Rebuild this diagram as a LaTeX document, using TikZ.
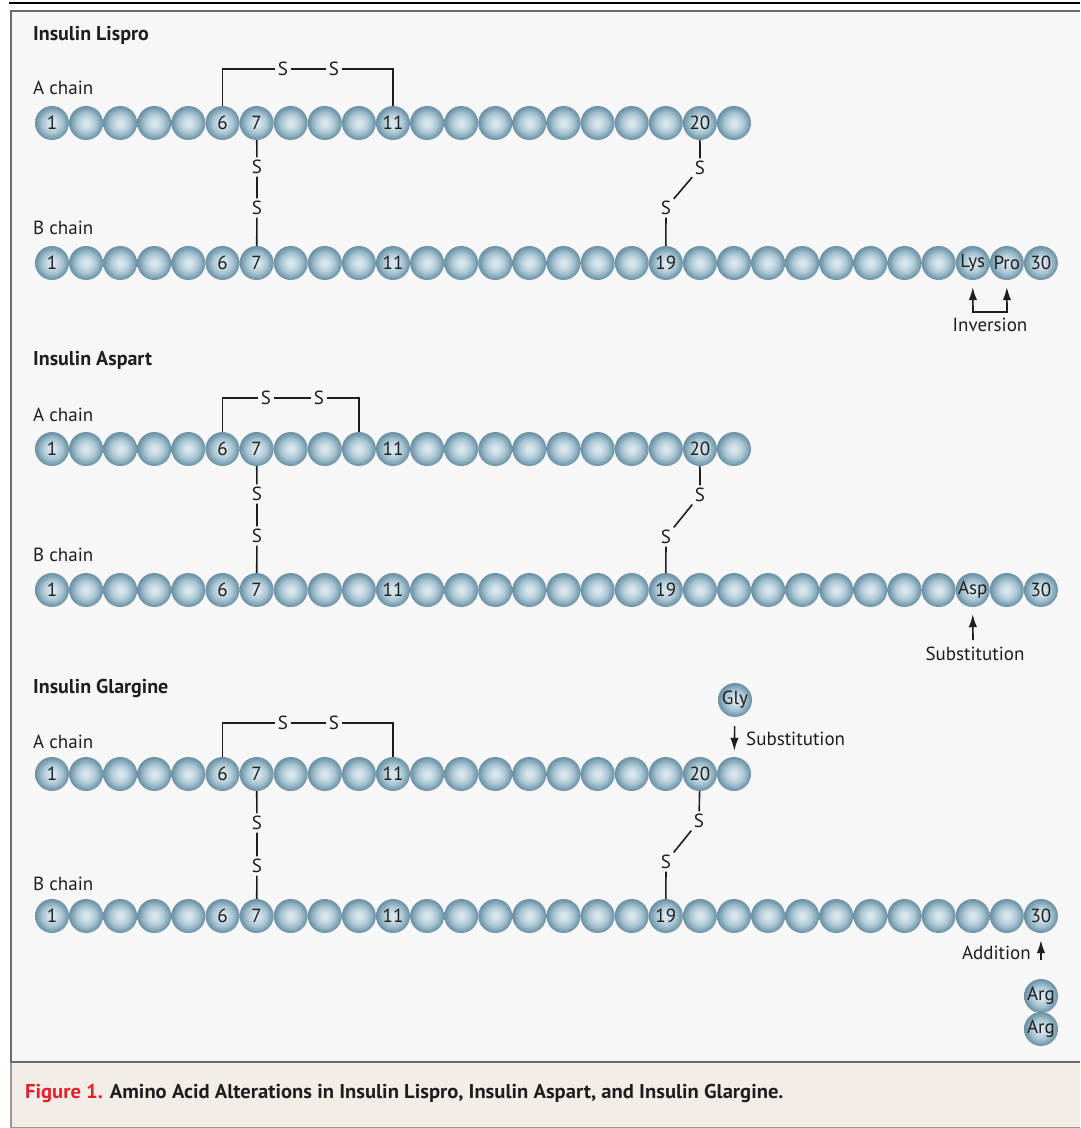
\documentclass[tikz,border=0pt]{standalone}
\usepackage{fontspec}
\setmainfont{PT Sans}
\usepackage{graphicx}
\usetikzlibrary{arrows.meta}
\definecolor{beadhi}{HTML}{DCE8EE}
\definecolor{beadmid}{HTML}{A6C3D1}
\definecolor{beadedge}{HTML}{789DB0}
\definecolor{boxbg}{HTML}{F7F7F7}
\definecolor{capbg}{HTML}{F2EDE7}
\definecolor{framegray}{HTML}{6A6A6A}
\definecolor{figred}{HTML}{E51F2A}
\definecolor{ink}{HTML}{1E1E1E}
\pgfdeclareradialshading{beadshade}{\pgfpoint{0bp}{0bp}}{color(0bp)=(beadhi); color(5bp)=(beadhi!85!beadmid); color(15bp)=(beadmid); color(22bp)=(beadedge); color(25bp)=(beadedge!92!black); color(50bp)=(beadedge!92!black)}
\newcommand\setlab[2]{\expandafter\def\csname bl@#1\endcsname{#2}}
\newcommand\beadlab[1]{\ifcsname bl@#1\endcsname\csname bl@#1\endcsname\fi}
% labels
\setlab{LA1}{1}\setlab{LA6}{6}\setlab{LA7}{7}\setlab{LA11}{11}\setlab{LA20}{20}
\setlab{LB1}{1}\setlab{LB6}{6}\setlab{LB7}{7}\setlab{LB11}{11}\setlab{LB19}{19}\setlab{LB28}{Lys}\setlab{LB29}{Pro}\setlab{LB30}{30}
\setlab{SA1}{1}\setlab{SA6}{6}\setlab{SA7}{7}\setlab{SA11}{11}\setlab{SA20}{20}
\setlab{SB1}{1}\setlab{SB6}{6}\setlab{SB7}{7}\setlab{SB11}{11}\setlab{SB19}{19}\setlab{SB28}{Asp}\setlab{SB30}{30}
\setlab{GA1}{1}\setlab{GA6}{6}\setlab{GA7}{7}\setlab{GA11}{11}\setlab{GA20}{20}
\setlab{GB1}{1}\setlab{GB6}{6}\setlab{GB7}{7}\setlab{GB11}{11}\setlab{GB19}{19}\setlab{GB30}{30}
\begin{document}
\begin{tikzpicture}[x=1pt,y=-1pt,
  bead/.style={circle,minimum size=34pt,inner sep=0pt,shading=beadshade,text=ink,font=\fontsize{19}{19}\selectfont},
  sulf/.style={inner sep=2.5pt,text=ink,font=\fontsize{19}{19}\selectfont},
  bond/.style={draw=ink,line width=1.6pt},
  arr/.style={draw=ink,line width=1.6pt,-{Latex[length=13pt,width=8.5pt]}},
  chainlab/.style={anchor=west,inner sep=0pt,text=ink,font=\fontsize{19}{19}\selectfont},
  paneltitle/.style={anchor=west,inner sep=0pt,text=ink,font=\bfseries\fontsize{20}{20}\selectfont},
  note/.style={text=ink,inner sep=0pt,font=\fontsize{19}{19}\selectfont}]
\useasboundingbox (0,0) rectangle (1080,1128);
% frame
\fill[boxbg] (11,11) rectangle (1080,1062);
\fill[capbg] (11,1062) rectangle (1080,1127);
\draw[black,line width=1.5pt] (9,3) -- (1080,3);
\draw[framegray,line width=2.2pt] (1080,11) -- (11,11) -- (11,1062);
\draw[framegray!70,line width=1.4pt] (11,1062) -- (11,1127.3) -- (1080,1127.3);
\draw[framegray,line width=2.4pt] (11,1062) -- (1080,1062);
% titles
\node[paneltitle] (tL) at (33,35) {Insulin Lispro};
\node[paneltitle] (tS) at (33,360) {Insulin Aspart};
\node[paneltitle] (tG) at (33,688) {Insulin Glargine};
\node[chainlab] (cLA) at (33,88) {A chain};
\node[chainlab] (cLB) at (33,228) {B chain};
\node[chainlab] (cSA) at (33,415) {A chain};
\node[chainlab] (cSB) at (33,555) {B chain};
\node[chainlab] (cGA) at (33,742) {A chain};
\node[chainlab] (cGB) at (33,884) {B chain};
% beads
\foreach \p/\ya/\yb in {L/123/263,S/449/590,G/774/916}{
  \foreach \i in {1,...,21}
    \node[bead] (\p A\i) at ({52+34.1*(\i-1)},\ya) {\beadlab{\p A\i}};
  \foreach \i in {1,...,30}
    \node[bead] (\p B\i) at ({52+34.1*(\i-1)},\yb) {\beadlab{\p B\i}};
}
% Lispro bonds
\node[sulf] (LSa) at (283,69) {S};
\node[sulf] (LSb) at (334,69) {S};
\draw[bond] (LA6.north) |- (LSa.west);
\draw[bond] (LSa) -- (LSb);
\draw[bond] (LSb.east) -| (LA11.north);
\node[sulf] (LSc) at (257,167) {S};
\node[sulf] (LSd) at (257,208) {S};
\draw[bond] (LA7) -- (LSc) -- (LSd) -- (LB7);
\node[sulf] (LSe) at (700,168) {S};
\node[sulf] (LSf) at (666,208) {S};
\draw[bond] (LA20) -- (LSe) -- (LSf) -- (LB19);
% Aspart bonds
\node[sulf] (SSa) at (266,398) {S};
\node[sulf] (SSb) at (319,398) {S};
\draw[bond] (SA6.north) |- (SSa.west);
\draw[bond] (SSa) -- (SSb);
\draw[bond] (SSb.east) -| (SA10.north);
\node[sulf] (SSc) at (257,494) {S};
\node[sulf] (SSd) at (257,536) {S};
\draw[bond] (SA7) -- (SSc) -- (SSd) -- (SB7);
\node[sulf] (SSe) at (700,495) {S};
\node[sulf] (SSf) at (666,537) {S};
\draw[bond] (SA20) -- (SSe) -- (SSf) -- (SB19);
% Glargine bonds
\node[sulf] (GSa) at (283,723) {S};
\node[sulf] (GSb) at (334,723) {S};
\draw[bond] (GA6.north) |- (GSa.west);
\draw[bond] (GSa) -- (GSb);
\draw[bond] (GSb.east) -| (GA11.north);
\node[sulf] (GSc) at (257,823) {S};
\node[sulf] (GSd) at (257,866) {S};
\draw[bond] (GA7) -- (GSc) -- (GSd) -- (GB7);
\node[sulf] (GSe) at (699,821) {S};
\node[sulf] (GSf) at (666,862) {S};
\draw[bond] (GA20) -- (GSe) -- (GSf) -- (GB19);
% Lispro inversion
\coordinate (inv1) at (973,312);
\coordinate (inv2) at (1007,312);
\draw[bond,{Latex[length=13pt,width=8.5pt]}-{Latex[length=13pt,width=8.5pt]},shorten <=7pt,shorten >=7pt]
  (LB28.south) -- (inv1) -- (inv2) -- (LB29.south);
\node[note] (invt) at (990,325) {Inversion};
% Aspart substitution
\coordinate (sub1) at (973,640);
\draw[arr,shorten >=7pt] (sub1) -- (SB28.south);
\node[note] (subt) at (975,654) {Substitution};
% Glargine substitution and addition
\node[bead] (Gly) at (735,700) {Gly};
\draw[arr,shorten <=9pt,shorten >=6pt] (Gly) -- (GA21);
\node[note,anchor=west] (subg) at (746,739) {Substitution};
\node[bead] (Arg1) at (1041,996) {Arg};
\node[bead] (Arg2) at (1041,1029) {Arg};
\draw[arr,shorten <=19pt,shorten >=7pt] (Arg1) -- (GB30);
\node[note,anchor=east] (addt) at (1031,953) {Addition};
% caption
\node[anchor=west,inner sep=0pt] (cap) at (25,1093) {\scalebox{1.03}[1]{\fontsize{20}{20}\selectfont\bfseries\textcolor{figred}{Figure 1.} \textcolor{ink}{Amino Acid Alterations in Insulin Lispro, Insulin Aspart, and Insulin Glargine.}}};
\end{tikzpicture}
\end{document}
